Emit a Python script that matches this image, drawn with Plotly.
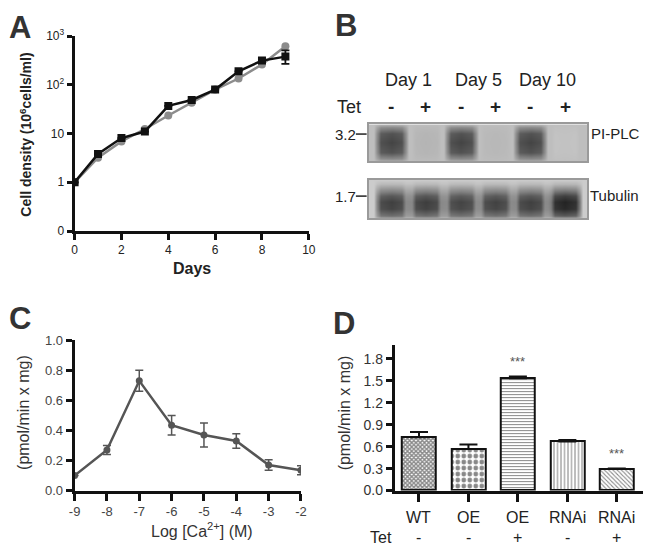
import plotly.graph_objects as go

W, H = 650, 557
FONT = "Liberation Sans Narrow, Arial Narrow, Liberation Sans, Arial, sans-serif"


def px(p):
    return p / W


def py(p):
    return 1 - p / H


# ---------------- Panel A data ----------------
days = [0, 1, 2, 3, 4, 5, 6, 7, 8, 9]
density_black = [1, 3.8, 8.1, 11, 37, 49, 80, 190, 315, 380]
density_grey = [1, 3.2, 6.9, 12.4, 23.5, 43, 80, 135, 262, 620]
black_err_plus = [0, 0, 0, 0, 0, 0, 0, 0, 0, 130]
black_err_minus = [0, 0, 0, 0, 0, 0, 0, 0, 0, 110]
a_xticks = [0, 2, 4, 6, 8, 10]
a_ytickvals = [0.1, 1, 10, 100, 1000]
a_yticktext = ["0", "1", "10", "10<sup>2</sup>", "10<sup>3</sup>"]

# ---------------- Panel B data ----------------
blot_lanes = [1, 2, 3, 4, 5, 6]
blot_tet = ["-", "+", "-", "+", "-", "+"]
blot_days = ["Day 1", "Day 5", "Day 10"]
pi_plc_signal = [0.80, 0.18, 0.80, 0.16, 0.80, 0.10]
tubulin_signal = [0.82, 0.83, 0.80, 0.81, 0.82, 0.96]
blot_markers = ["3.2", "1.7"]
blot_names = ["PI-PLC", "Tubulin"]

# ---------------- Panel C data ----------------
log_ca = [-9, -8, -7, -6, -5, -4, -3, -2]
activity_c = [0.10, 0.27, 0.73, 0.435, 0.37, 0.33, 0.17, 0.135]
err_c = [0.0, 0.03, 0.07, 0.065, 0.08, 0.048, 0.035, 0.03]

# ---------------- Panel D data ----------------
groups_d = ["WT", "OE", "OE", "RNAi", "RNAi"]
tet_d = ["-", "-", "+", "-", "+"]
activity_d = [0.73, 0.57, 1.535, 0.67, 0.30]
err_d = [0.07, 0.06, 0.025, 0.02, 0.0]
signif_d = ["", "", "***", "", "***"]
patterns_d = [
    dict(shape="x", size=3, solidity=0.7),
    dict(shape=".", size=6, solidity=0.5),
    dict(shape="-", size=3, solidity=0.35),
    dict(shape="|", size=3.5, solidity=0.3),
    dict(shape="\\", size=3, solidity=0.35),
]

fig = go.Figure()

# ---- Panel A traces ----
fig.add_trace(go.Scatter(
    x=days, y=density_grey, mode="lines+markers",
    line=dict(color="#8c8c8c", width=2.5),
    marker=dict(symbol="circle", size=8, color="#8c8c8c"),
    xaxis="x", yaxis="y", showlegend=False, hoverinfo="skip"))
fig.add_trace(go.Scatter(
    x=days, y=density_black, mode="lines+markers",
    line=dict(color="#111111", width=2.5),
    marker=dict(symbol="square", size=8, color="#111111"),
    error_y=dict(type="data", symmetric=False, array=black_err_plus,
                 arrayminus=black_err_minus, color="#111111",
                 thickness=1.8, width=4),
    xaxis="x", yaxis="y", showlegend=False, hoverinfo="skip"))

# ---- Panel B blots (heatmaps) ----
BX0, BX1 = 0.352, 6.634


def blot_z(signal, yprof, base, mid_factor):
    xs = [BX0]
    row = [base]
    for i, lane in enumerate(blot_lanes):
        s = signal[i]
        left_val = base if i == 0 else max(base, mid_factor * min(signal[i - 1], s))
        xs += [lane - 0.5, lane - 0.42, lane - 0.3, lane, lane + 0.3, lane + 0.42]
        row += [left_val, max(base, 0.55 * s), 0.93 * s, s, 0.93 * s, max(base, 0.55 * s)]
    xs += [blot_lanes[-1] + 0.5, BX1]
    row += [base, base]
    z = [[base + (v - base) * m for v in row] for m in yprof]
    return xs, z


grey_scale = [[0, "#d6d6d6"], [0.12, "#bebebe"], [0.5, "#818181"], [1, "#1c1c1c"]]

ys_plc = [0, 0.08, 0.25, 0.5, 0.75, 0.92, 1]
xs, z = blot_z(pi_plc_signal, [0.1, 0.5, 0.9, 1, 0.9, 0.5, 0.1], 0.12, 0.15)
fig.add_trace(go.Heatmap(x=xs, y=ys_plc, z=z, zmin=0, zmax=1, zsmooth="best",
                         colorscale=grey_scale, showscale=False,
                         xaxis="x4", yaxis="y4", hoverinfo="skip"))

ys_tub = [0, 0.08, 0.25, 0.42, 0.6, 0.75, 0.9, 1]
xs, z = blot_z(tubulin_signal, [0.15, 0.7, 0.97, 1, 0.85, 0.5, 0.12, 0.0], 0.05, 0.55)
fig.add_trace(go.Heatmap(x=xs, y=ys_tub, z=z, zmin=0, zmax=1, zsmooth="best",
                         colorscale=grey_scale, showscale=False,
                         xaxis="x5", yaxis="y5", hoverinfo="skip"))

# ---- Panel C ----
fig.add_trace(go.Scatter(
    x=log_ca, y=activity_c, mode="lines+markers",
    line=dict(color="#555555", width=2.5),
    marker=dict(symbol="circle", size=7, color="#555555"),
    error_y=dict(type="data", array=err_c, color="#555555", thickness=1.5, width=4),
    xaxis="x2", yaxis="y2", showlegend=False, hoverinfo="skip"))

# ---- Panel D ----
cat_idx = list(range(len(groups_d)))
for i in cat_idx:
    fig.add_trace(go.Bar(
        x=[i], y=[activity_d[i]], width=0.69,
        marker=dict(color="white", line=dict(color="#111111", width=2),
                    pattern=dict(fgcolor="#111111", bgcolor="white",
                                 fillmode="overlay", **patterns_d[i])),
        error_y=dict(type="data", symmetric=False, array=[err_d[i]],
                     arrayminus=[0], color="#111111", thickness=2, width=9),
        xaxis="x3", yaxis="y3", showlegend=False, hoverinfo="skip"))

# ---------------- Axes ----------------
axis_common = dict(showgrid=False, zeroline=False, showline=True,
                   linecolor="#111111", linewidth=3, ticks="outside",
                   tickcolor="#111111", tickwidth=3)
blot_axis = dict(showgrid=False, zeroline=False, showticklabels=False, ticks="",
                 showline=True, mirror=True, linecolor="#9a9a9a", linewidth=1.5)

layout = dict(
    width=W, height=H, margin=dict(l=0, r=0, t=0, b=0),
    paper_bgcolor="white", plot_bgcolor="rgba(0,0,0,0)",
    font=dict(family=FONT, color="#222222"),
    bargap=0,
    # Panel A
    xaxis=dict(domain=[px(70), px(309)], range=[0, 10], tickvals=a_xticks,
               ticklen=6, tickfont=dict(size=12, color="#222"), **axis_common),
    yaxis=dict(domain=[py(229), py(28)], type="log", range=[-1, 3],
               tickvals=a_ytickvals, ticktext=a_yticktext, ticklen=5,
               tickfont=dict(size=12, color="#222"), anchor="x", **axis_common),
    # Panel C
    xaxis2=dict(domain=[px(70), px(301)], range=[-9, -2], tickvals=log_ca,
                ticktext=[str(v) for v in log_ca], ticklen=7,
                tickfont=dict(size=13, color="#444"), anchor="y2", **axis_common),
    yaxis2=dict(domain=[py(496.7), py(341.7)], range=[0, 1.0],
                tickvals=[0, 0.2, 0.4, 0.6, 0.8, 1.0], tickformat=".1f",
                ticklen=6, tickfont=dict(size=13, color="#444"), anchor="x2",
                **axis_common),
    # Panel D
    xaxis3=dict(domain=[px(396.7), 1.0], range=[-0.49, 4.53], tickvals=cat_idx,
                showticklabels=False, ticklen=8, anchor="y3", **axis_common),
    yaxis3=dict(domain=[py(496.7), py(346.7)], range=[0, 1.99],
                tickvals=[0, 0.3, 0.6, 0.9, 1.2, 1.5, 1.8], tickformat=".1f",
                ticklen=6, tickfont=dict(size=14, color="#333"), anchor="x3",
                **axis_common),
    # Panel B blots
    xaxis4=dict(domain=[px(370), px(593)], range=[BX0, BX1], anchor="y4", **blot_axis),
    yaxis4=dict(domain=[py(157), py(119)], range=[0, 1], anchor="x4", **blot_axis),
    xaxis5=dict(domain=[px(370), px(593)], range=[BX0, BX1], anchor="y5", **blot_axis),
    yaxis5=dict(domain=[py(216), py(176)], range=[0, 1], anchor="x5", **blot_axis),
)

ann = []


def add_text(text, x, y, size, color="#222", bold=False, angle=0,
             xref="paper", yref="paper", xanchor="center", yanchor="middle"):
    if bold:
        text = "<b>" + text + "</b>"
    ann.append(dict(text=text, x=x, y=y, xref=xref, yref=yref, showarrow=False,
                    xanchor=xanchor, yanchor=yanchor, textangle=angle,
                    font=dict(size=size, color=color, family=FONT)))


# panel letters
for letter, (lx, ly) in zip("ABCD", [(14, 19), (347, 17), (14, 319), (345, 324)]):
    add_text(letter, px(lx), py(ly), 31, color="#333", bold=True)

# Panel A titles
add_text("Cell density (10<sup>6</sup>cells/ml)", px(20), py(130), 14, bold=True, angle=-90)
add_text("Days", px(190), py(268), 16, bold=True)

# Panel B labels
for i, d in enumerate(blot_days):
    cx = (blot_lanes[2 * i] + blot_lanes[2 * i + 1]) / 2
    add_text(d, cx, py(73), 18, xref="x4")
add_text("Tet", px(350), py(101), 18)
for lane, t in zip(blot_lanes, blot_tet):
    add_text("<b>" + t + "</b>", lane, py(101), 19, xref="x4")
add_text(blot_markers[0], px(346), py(129), 15)
add_text(blot_markers[1], px(346), py(193), 15)
add_text(blot_names[0], px(622), py(128), 15)
add_text(blot_names[1], px(621), py(192), 15)

# Panel C titles
add_text("(pmol/min x mg)", px(18), py(416), 16, color="#333", angle=-90)
add_text("Log [Ca<sup>2+</sup>] (M)", px(200), py(537), 16, color="#333")

# Panel D titles and labels
add_text("(pmol/min x mg)", px(345), py(417), 16, color="#333", angle=-90)
for i in cat_idx:
    add_text(groups_d[i], i, py(525), 16, xref="x3")
    add_text(tet_d[i], i, py(545), 16, xref="x3")
    if signif_d[i]:
        ann.append(dict(text=signif_d[i], x=i, y=activity_d[i] + err_d[i],
                        xref="x3", yref="y3", showarrow=False, yanchor="bottom",
                        yshift=6, font=dict(size=13, color="#555", family=FONT)))
add_text("Tet", px(383), py(545), 16)

layout["annotations"] = ann

shapes = []
for yy in [129, 193]:
    shapes.append(dict(type="line", xref="paper", yref="paper",
                       x0=px(357), x1=px(368), y0=py(yy), y1=py(yy),
                       line=dict(color="#222", width=1.5)))
layout["shapes"] = shapes

fig.update_layout(**layout)
fig.write_html("out.html", config={"displayModeBar": False},
               post_script="document.body.style.margin='0px';"
                           "document.body.style.overflow='hidden';")
